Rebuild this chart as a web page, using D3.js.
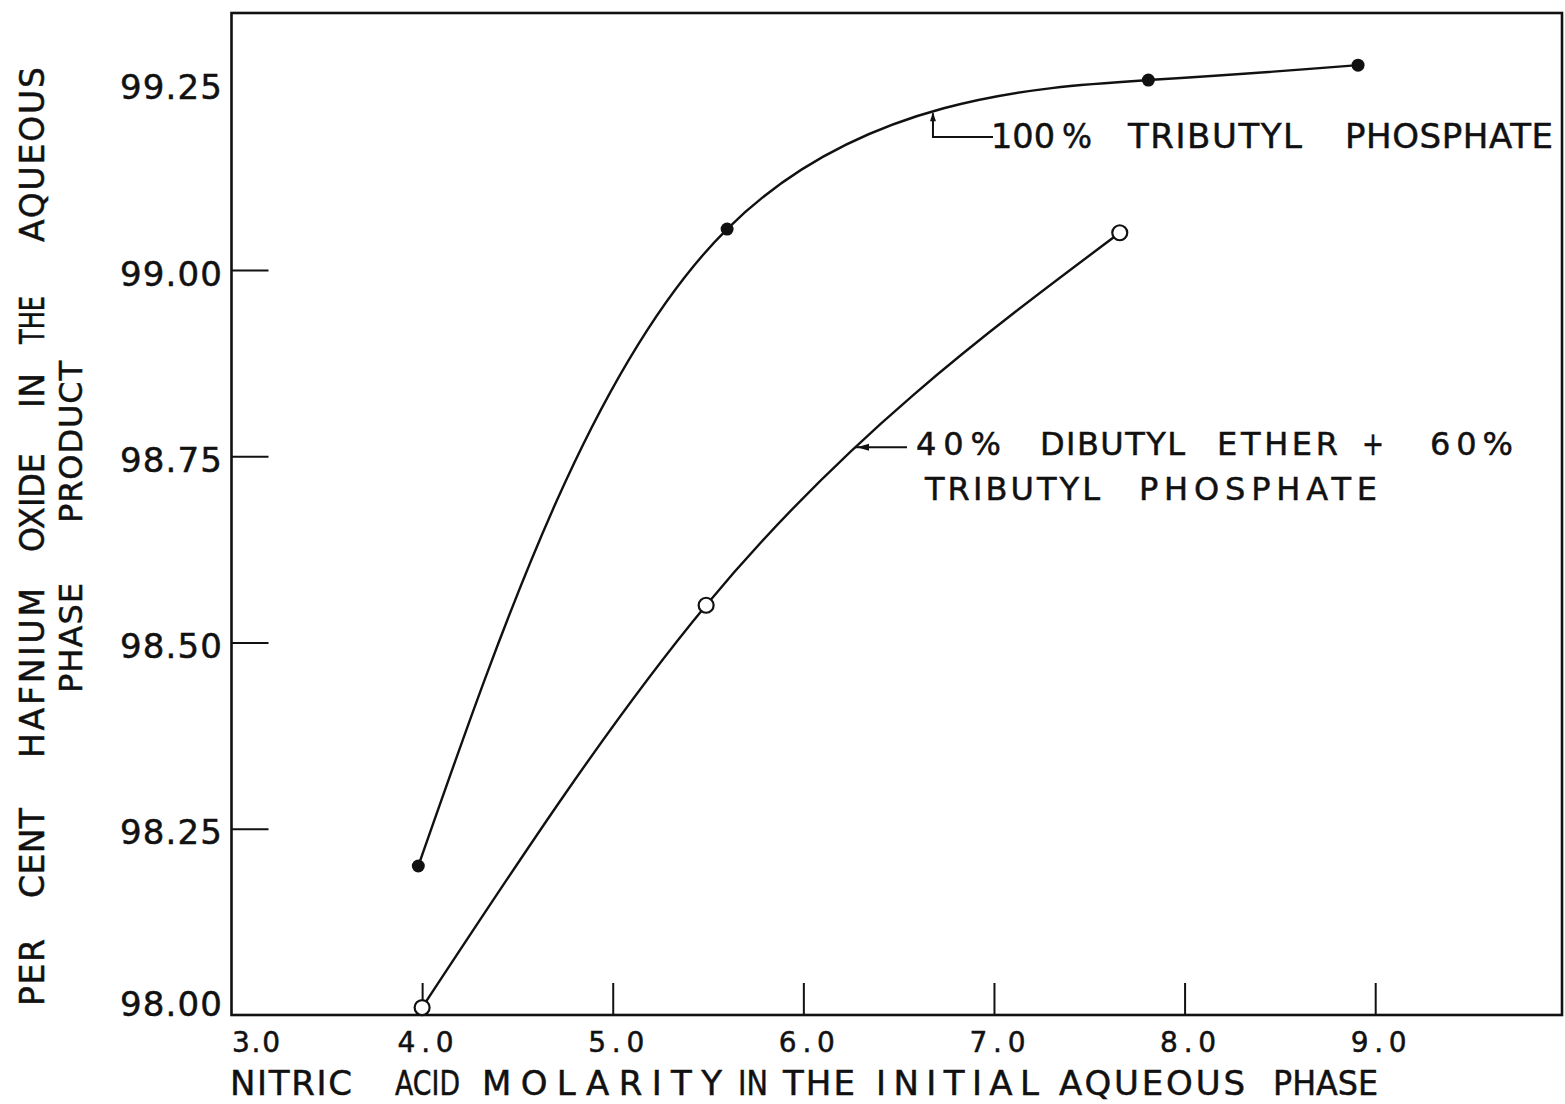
<!DOCTYPE html>
<html>
<head>
<meta charset="utf-8">
<script src="https://cdn.jsdelivr.net/npm/d3@7"></script>
<style>
  body { margin: 0; background: #fff; }
  svg { display: block; }
  text { font-family: "DejaVu Sans", sans-serif; fill: #111; stroke: #111; stroke-width: 0.5; }
</style>
</head>
<body>
<svg id="chart" width="1565" height="1104"></svg>
<script>
// ---- data -------------------------------------------------------------
const xTickValues = [3, 4, 5, 6, 7, 8, 9];
const xTickLabels = ["3.0", "4.0", "5.0", "6.0", "7.0", "8.0", "9.0"];
const yTickValues = [98.00, 98.25, 98.50, 98.75, 99.00, 99.25];
const yTickLabels = ["98.00", "98.25", "98.50", "98.75", "99.00", "99.25"];

// 100 % tributyl phosphate (filled points)
const tbpMolarity = [3.98, 5.60, 7.81, 8.91];
const tbpPercent  = [98.20, 99.055, 99.255, 99.275];

// 40 % dibutyl ether + 60 % tributyl phosphate (open points)
const dbeMolarity = [4.00, 5.49, 7.66];
const dbePercent  = [98.01, 98.55, 99.05];

// where each curve's label leader touches it
const tbpLeaderMolarity = 6.68;
const dbeLeaderPercent = 98.762;

// ---- layout -----------------------------------------------------------
const svg = d3.select("#chart");
const ink = "#111";

const x = d3.scaleLinear().domain([3, 9.98]).range([231.5, 1562]);
const y = d3.scaleLinear().domain([98, 99.345]).range([1015, 13]);

// fit a piece of text to a measured width: squeeze glyphs when too wide,
// open up the letter spacing when too narrow
function fitText(sel, width) {
  sel.each(function () {
    const natural = this.getComputedTextLength();
    d3.select(this)
      .attr("textLength", width)
      .attr("lengthAdjust", natural > width ? "spacingAndGlyphs" : "spacing");
  });
}

// frame
svg.append("rect")
  .attr("x", x.range()[0]).attr("y", y.range()[1])
  .attr("width", x.range()[1] - x.range()[0])
  .attr("height", y.range()[0] - y.range()[1])
  .attr("fill", "none").attr("stroke", ink).attr("stroke-width", 2.6);

// bottom axis: ticks point up into the plot
const gx = svg.append("g")
  .attr("transform", `translate(0,${y(98)})`)
  .call(d3.axisBottom(x).tickValues(xTickValues)
    .tickFormat((d, i) => xTickLabels[i])
    .tickSizeInner(-32).tickSizeOuter(0));
gx.select(".domain").remove();
gx.selectAll(".tick line").attr("stroke", ink).attr("stroke-width", 2)
  .filter(d => d === 3).remove();
gx.selectAll(".tick text")
  .attr("y", 37).attr("dy", null)
  .attr("font-size", 28).attr("fill", ink)
  .attr("text-anchor", d => d === 3 ? "start" : "middle")
  .attr("x", d => d === 3 ? 0 : 3)
  .each(function (d) { fitText(d3.select(this), d === 3 ? 48 : 56); });

// left axis: ticks point right into the plot
const gy = svg.append("g")
  .attr("transform", `translate(${x(3)},0)`)
  .call(d3.axisLeft(y).tickValues(yTickValues)
    .tickFormat((d, i) => yTickLabels[i])
    .tickSizeInner(-37).tickSizeOuter(0));
gy.select(".domain").remove();
gy.selectAll(".tick line").attr("stroke", ink).attr("stroke-width", 2)
  .filter(d => d === 98 || d === 99.25).remove();
gy.selectAll(".tick text")
  .attr("x", -9.5).attr("dy", null)
  .attr("y", d => d === 98 ? 0 : 15)
  .attr("font-size", 34).attr("fill", ink)
  .attr("text-anchor", "end")
  .call(fitText, 102);

// ---- curves -----------------------------------------------------------
const lineThrough = curve => d3.line()
  .x(d => x(d[0])).y(d => y(d[1]))
  .curve(curve);

const tbp = d3.zip(tbpMolarity, tbpPercent);
const dbe = d3.zip(dbeMolarity, dbePercent);

const tbpPath = svg.append("path").datum(tbp)
  .attr("d", lineThrough(d3.curveNatural)).attr("fill", "none")
  .attr("stroke", ink).attr("stroke-width", 2.4);
const dbePath = svg.append("path").datum(dbe)
  .attr("d", lineThrough(d3.curveMonotoneX)).attr("fill", "none")
  .attr("stroke", ink).attr("stroke-width", 2.4);

svg.append("g").selectAll("circle").data(tbp).join("circle")
  .attr("cx", d => x(d[0])).attr("cy", d => y(d[1]))
  .attr("r", 6.5).attr("fill", ink);

svg.append("g").selectAll("circle").data(dbe).join("circle")
  .attr("cx", d => x(d[0])).attr("cy", d => y(d[1]))
  .attr("r", 7.5).attr("fill", "#fff")
  .attr("stroke", ink).attr("stroke-width", 2.2);

// ---- curve labels with leaders ----------------------------------------
function pointWhere(node, test) {
  // binary search along the path length for the first point passing test
  let lo = 0, hi = node.getTotalLength();
  for (let k = 0; k < 40; k++) {
    const mid = (lo + hi) / 2;
    if (test(node.getPointAtLength(mid))) hi = mid; else lo = mid;
  }
  return node.getPointAtLength(hi);
}

// one line of lettering, each word set between its own left and right edge
function wordLine(parent, words, baseline, size) {
  const g = parent.append("g").attr("font-size", size);
  words.forEach(([w, a, b]) => {
    g.append("text").attr("x", a).attr("y", baseline).text(w)
      .call(fitText, b - a);
  });
  return g;
}

// 100 % TBP label
const p1 = pointWhere(tbpPath.node(), p => p.x >= x(tbpLeaderMolarity));
const l1y = 137, l1x = 993;
svg.append("path")
  .attr("d", `M${p1.x},${p1.y + 2}V${l1y}H${l1x}`)
  .attr("fill", "none").attr("stroke", ink).attr("stroke-width", 2);
svg.append("path")
  .attr("d", `M${p1.x},${p1.y + 1}l-3,9h6z`).attr("fill", ink);
wordLine(svg, [["100", 991, 1055], ["%", 1062, 1092],
  ["TRIBUTYL", 1128, 1302], ["PHOSPHATE", 1345, 1553]], 148, 34);

// 40 % DBE + 60 % TBP label
const p2 = pointWhere(dbePath.node(), p => p.y <= y(dbeLeaderPercent));
svg.append("path")
  .attr("d", `M${p2.x},${p2.y}H907`)
  .attr("fill", "none").attr("stroke", ink).attr("stroke-width", 2);
svg.append("path")
  .attr("d", `M${p2.x + 2},${p2.y}l12,-3.5v7z`).attr("fill", ink);
wordLine(svg, [["40%", 916, 1001], ["DIBUTYL", 1040, 1185],
  ["ETHER", 1217, 1338], ["+", 1362, 1384], ["60%", 1430, 1513]], 455, 32);
wordLine(svg, [["TRIBUTYL", 925, 1100], ["PHOSPHATE", 1139, 1377]], 500, 32);

// ---- axis titles ------------------------------------------------------
wordLine(svg, [["NITRIC", 230, 352], ["ACID", 395, 460],
  ["MOLARITY", 482, 722], ["IN", 738, 768], ["THE", 783, 855],
  ["INITIAL", 876, 1039], ["AQUEOUS", 1059, 1245], ["PHASE", 1273, 1378]],
  1095, 34);

// rotated title: word extents given as screen y ranges (top, bottom)
function verticalLine(words, baselineX, size) {
  const g = svg.append("g")
    .attr("transform", `translate(${baselineX},0) rotate(-90)`);
  wordLine(g, words.map(([w, top, bottom]) => [w, -bottom, -top]), 0, size);
}
verticalLine([["PER", 939, 1006], ["CENT", 808, 898], ["HAFNIUM", 588, 758],
  ["OXIDE", 453, 552], ["IN", 373, 408], ["THE", 296, 344],
  ["AQUEOUS", 67, 242]], 44, 33);
verticalLine([["PHASE", 583, 693], ["PRODUCT", 361, 523]], 82, 32);
</script>
</body>
</html>
